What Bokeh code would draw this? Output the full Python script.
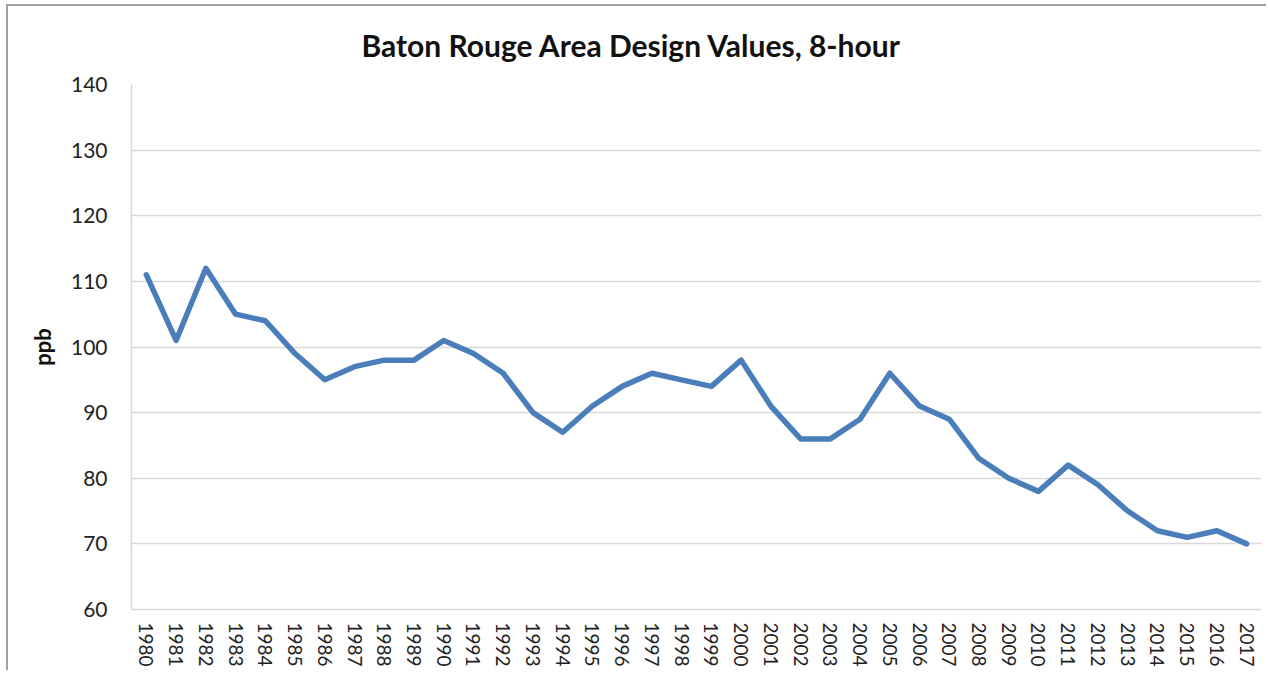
from bokeh.plotting import figure
from bokeh.models import FactorRange, Range1d, FixedTicker, Title
from bokeh.embed import file_html
from bokeh.resources import INLINE

years = ["1980", "1981", "1982", "1983", "1984", "1985", "1986", "1987", "1988", "1989",
         "1990", "1991", "1992", "1993", "1994", "1995", "1996", "1997", "1998", "1999",
         "2000", "2001", "2002", "2003", "2004", "2005", "2006", "2007", "2008", "2009",
         "2010", "2011", "2012", "2013", "2014", "2015", "2016", "2017"]
design_values = [111, 101, 112, 105, 104, 99, 95, 97, 98, 98,
                 101, 99, 96, 90, 87, 91, 94, 96, 95, 94,
                 98, 91, 86, 86, 89, 96, 91, 89, 83, 80,
                 78, 82, 79, 75, 72, 71, 72, 70]
y_ticks = [60, 70, 80, 90, 100, 110, 120, 130, 140]
title_text = "Baton Rouge Area Design Values, 8-hour"
y_label = "ppb"

FONT = "Lato"

p = figure(x_range=FactorRange(factors=years, range_padding=0),
           y_range=Range1d(60, 140),
           width=1260, height=666,
           output_backend="svg", toolbar_location=None,
           min_border_left=123, min_border_right=7,
           min_border_top=78, min_border_bottom=63)

p.styles = {"margin-left": "6px", "margin-top": "4px",
            "border-top": "2px solid #a0a0a0", "border-left": "2px solid #a0a0a0"}

p.title = Title(text=title_text, align="left", offset=230, standoff=40,
                vertical_align="top",
                text_font=FONT, text_font_style="bold", text_font_size="30px",
                text_color="#111111")

p.line(years, design_values, line_width=5.5, color="#4a7ebb", line_join="round", line_cap="round")

p.outline_line_color = None
p.background_fill_color = "white"
p.xgrid.grid_line_color = None
p.ygrid.grid_line_color = "#d9d9d9"
p.ygrid.grid_line_width = 1.5

p.yaxis.ticker = FixedTicker(ticks=y_ticks)
p.yaxis.major_tick_out = 0
p.yaxis.major_tick_in = 0
p.yaxis.minor_tick_out = 0
p.yaxis.minor_tick_in = 0
p.yaxis.axis_line_color = "#d9d9d9"
p.yaxis.axis_line_width = 1.5
p.yaxis.major_label_standoff = 24
p.yaxis.major_label_text_font = FONT
p.yaxis.major_label_text_font_size = "21px"
p.yaxis.major_label_text_color = "#222222"
p.yaxis.axis_label = y_label
p.yaxis.axis_label_text_font = FONT
p.yaxis.axis_label_text_font_style = "bold"
p.yaxis.axis_label_text_font_size = "22px"
p.yaxis.axis_label_text_color = "#111111"
p.yaxis.axis_label_standoff = 12

p.xaxis.major_tick_out = 0
p.xaxis.major_tick_in = 0
p.xaxis.axis_line_color = "#d9d9d9"
p.xaxis.axis_line_width = 1.5
p.xaxis.major_label_orientation = "vertical"
p.xaxis.major_label_standoff = 13
p.xaxis.major_label_text_font = FONT
p.xaxis.major_label_text_font_size = "19px"
p.xaxis.major_label_text_color = "#222222"

open("out.html", "w").write(file_html(p, INLINE))
